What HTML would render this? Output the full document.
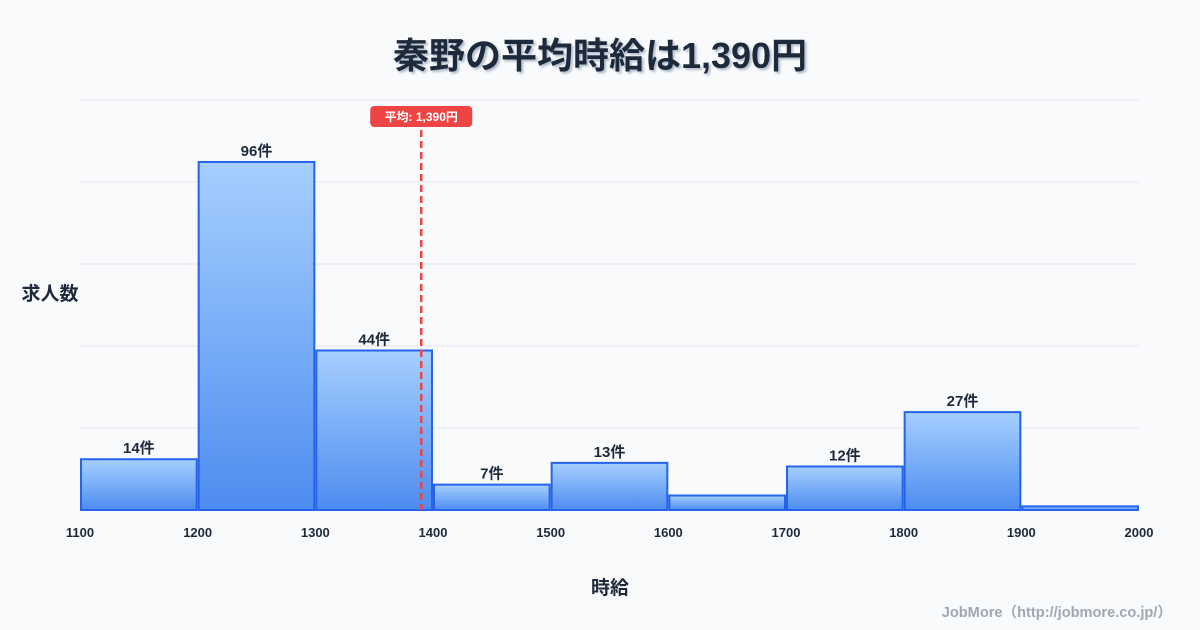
<!DOCTYPE html>
<html><head><meta charset="utf-8"><style>
body{margin:0;background:#f8fafc;}
svg{display:block;font-family:"Liberation Sans","Noto Sans CJK JP",sans-serif;}
</style></head><body>
<svg id="c" width="1200" height="630" viewBox="0 0 1200 630">
<defs>
<linearGradient id="g" x1="0" y1="0" x2="0" y2="1"><stop offset="0" stop-color="#a6cffe"/><stop offset="1" stop-color="#4d8cf0"/></linearGradient>
<filter id="sh"><feDropShadow dx="2" dy="2" stdDeviation="1" flood-color="#94a3b8" flood-opacity="0.7"/></filter>
</defs>
<rect width="1200" height="630" fill="#f8fafc"/>
<text x="600" y="68" text-anchor="middle" font-size="36" font-weight="bold" fill="#1e293b" filter="url(#sh)">秦野の平均時給は1,390円</text>
<g id="grid"></g><g id="bars"></g><g id="xt"></g>
<text x="50" y="300" text-anchor="middle" font-size="19" font-weight="bold" fill="#1e293b">求人数</text>
<text x="610" y="594" text-anchor="middle" font-size="19" font-weight="bold" fill="#1e293b">時給</text>
<text x="1172" y="617" text-anchor="end" font-size="14.6" font-weight="bold" fill="#a0a7b1">JobMore（http://jobmore.co.jp/）</text>
</svg>
<script>
const binStarts=[1100,1200,1300,1400,1500,1600,1700,1800,1900];
const counts=[14,96,44,7,13,4,12,27,1];
const xTicks=[1100,1200,1300,1400,1500,1600,1700,1800,1900,2000];
const meanValue=1390;
const meanLabel="平均: 1,390円";
const NS="http://www.w3.org/2000/svg";
const x0=80,x1=1139,xmin=1100,xmax=2000,yb=510,yt=100,ymax=113.1;
const X=v=>x0+(v-xmin)/(xmax-xmin)*(x1-x0);
const Y=v=>yb-v/ymax*(yb-yt);
function mk(t,a,p){const e=document.createElementNS(NS,t);for(const k in a)e.setAttribute(k,a[k]);p.appendChild(e);return e;}
const grid=document.getElementById('grid');
for(let i=0;i<=5;i++){const y=yt+i*(yb-yt)/5;const l=mk('line',{x1:x0,x2:x1,y1:y,y2:y,stroke:'#e5e7eb','stroke-width':1},grid);

}
const bars=document.getElementById('bars');
binStarts.forEach((b,i)=>{const xa=X(b)+1,xb=X(b+100)-1;const r=mk('rect',{x:xa,y:Y(counts[i]),width:xb-xa,height:yb-Y(counts[i]),fill:'url(#g)',stroke:'#2563eb','stroke-width':2},bars);


if(counts[i]>=7){const t=mk('text',{x:(xa+xb)/2,y:Y(counts[i])-6,'text-anchor':'middle','font-size':15,'font-weight':'bold',fill:'#1e293b'},bars);t.textContent=counts[i]+'件';

}});
const xt=document.getElementById('xt');
xTicks.forEach(v=>{const t=mk('text',{x:X(v),y:537,'text-anchor':'middle','font-size':13,'font-weight':'bold',fill:'#1e293b'},xt);t.textContent=v;

});
const mx=X(meanValue);
const ml=mk('line',{x1:mx,x2:mx,y1:130,y2:yb,stroke:'#ef4444','stroke-width':2.5,'stroke-dasharray':'7,4'},xt);


const mb=mk('rect',{x:mx-51,y:106,width:102,height:21,rx:4,fill:'#ef4444'},xt);


const mt=mk('text',{x:mx,y:121,'text-anchor':'middle','font-size':12,'font-weight':'bold',fill:'#fff'},xt);mt.textContent=meanLabel;


</script>
</body></html>
